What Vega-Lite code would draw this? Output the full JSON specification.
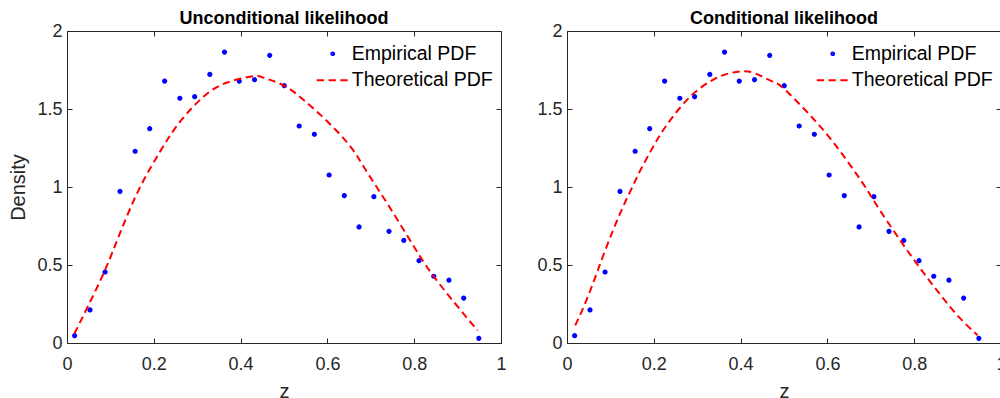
{
  "$schema": "https://vega.github.io/schema/vega-lite/v6.json",
  "autosize": {"type": "none"},
  "padding": {"left": 67, "top": 31, "right": 933, "bottom": 367},
  "background": "white",
  "datasets": {
    "emp": [
      {"z": 0.0175, "density": 0.047, "series": "Empirical PDF"},
      {"z": 0.053, "density": 0.212, "series": "Empirical PDF"},
      {"z": 0.0877, "density": 0.455, "series": "Empirical PDF"},
      {"z": 0.122, "density": 0.972, "series": "Empirical PDF"},
      {"z": 0.157, "density": 1.229, "series": "Empirical PDF"},
      {"z": 0.1905, "density": 1.374, "series": "Empirical PDF"},
      {"z": 0.225, "density": 1.679, "series": "Empirical PDF"},
      {"z": 0.26, "density": 1.569, "series": "Empirical PDF"},
      {"z": 0.294, "density": 1.579, "series": "Empirical PDF"},
      {"z": 0.329, "density": 1.722, "series": "Empirical PDF"},
      {"z": 0.363, "density": 1.865, "series": "Empirical PDF"},
      {"z": 0.397, "density": 1.679, "series": "Empirical PDF"},
      {"z": 0.432, "density": 1.688, "series": "Empirical PDF"},
      {"z": 0.467, "density": 1.844, "series": "Empirical PDF"},
      {"z": 0.5006, "density": 1.65, "series": "Empirical PDF"},
      {"z": 0.535, "density": 1.391, "series": "Empirical PDF"},
      {"z": 0.57, "density": 1.338, "series": "Empirical PDF"},
      {"z": 0.604, "density": 1.077, "series": "Empirical PDF"},
      {"z": 0.639, "density": 0.945, "series": "Empirical PDF"},
      {"z": 0.673, "density": 0.744, "series": "Empirical PDF"},
      {"z": 0.707, "density": 0.938, "series": "Empirical PDF"},
      {"z": 0.742, "density": 0.716, "series": "Empirical PDF"},
      {"z": 0.776, "density": 0.658, "series": "Empirical PDF"},
      {"z": 0.811, "density": 0.528, "series": "Empirical PDF"},
      {"z": 0.845, "density": 0.428, "series": "Empirical PDF"},
      {"z": 0.88, "density": 0.403, "series": "Empirical PDF"},
      {"z": 0.914, "density": 0.288, "series": "Empirical PDF"},
      {"z": 0.949, "density": 0.03, "series": "Empirical PDF"}
    ],
    "theoU": [
      {"z": 0.017, "density": 0.06, "series": "Theoretical PDF"},
      {"z": 0.05, "density": 0.245, "series": "Theoretical PDF"},
      {"z": 0.088, "density": 0.47, "series": "Theoretical PDF"},
      {"z": 0.123, "density": 0.71, "series": "Theoretical PDF"},
      {"z": 0.165, "density": 0.98, "series": "Theoretical PDF"},
      {"z": 0.215, "density": 1.23, "series": "Theoretical PDF"},
      {"z": 0.261, "density": 1.42, "series": "Theoretical PDF"},
      {"z": 0.315, "density": 1.58, "series": "Theoretical PDF"},
      {"z": 0.369, "density": 1.67, "series": "Theoretical PDF"},
      {"z": 0.43, "density": 1.71, "series": "Theoretical PDF"},
      {"z": 0.454, "density": 1.7, "series": "Theoretical PDF"},
      {"z": 0.5, "density": 1.65, "series": "Theoretical PDF"},
      {"z": 0.546, "density": 1.556, "series": "Theoretical PDF"},
      {"z": 0.6, "density": 1.42, "series": "Theoretical PDF"},
      {"z": 0.654, "density": 1.256, "series": "Theoretical PDF"},
      {"z": 0.688, "density": 1.11, "series": "Theoretical PDF"},
      {"z": 0.738, "density": 0.894, "series": "Theoretical PDF"},
      {"z": 0.8, "density": 0.615, "series": "Theoretical PDF"},
      {"z": 0.846, "density": 0.423, "series": "Theoretical PDF"},
      {"z": 0.907, "density": 0.21, "series": "Theoretical PDF"},
      {"z": 0.946, "density": 0.08, "series": "Theoretical PDF"}
    ],
    "theoC": [
      {"z": 0.019, "density": 0.113, "series": "Theoretical PDF"},
      {"z": 0.05, "density": 0.31, "series": "Theoretical PDF"},
      {"z": 0.088, "density": 0.594, "series": "Theoretical PDF"},
      {"z": 0.127, "density": 0.86, "series": "Theoretical PDF"},
      {"z": 0.154, "density": 1.02, "series": "Theoretical PDF"},
      {"z": 0.169, "density": 1.107, "series": "Theoretical PDF"},
      {"z": 0.196, "density": 1.246, "series": "Theoretical PDF"},
      {"z": 0.223, "density": 1.37, "series": "Theoretical PDF"},
      {"z": 0.258, "density": 1.5, "series": "Theoretical PDF"},
      {"z": 0.296, "density": 1.61, "series": "Theoretical PDF"},
      {"z": 0.335, "density": 1.685, "series": "Theoretical PDF"},
      {"z": 0.369, "density": 1.725, "series": "Theoretical PDF"},
      {"z": 0.404, "density": 1.742, "series": "Theoretical PDF"},
      {"z": 0.435, "density": 1.727, "series": "Theoretical PDF"},
      {"z": 0.473, "density": 1.677, "series": "Theoretical PDF"},
      {"z": 0.496, "density": 1.64, "series": "Theoretical PDF"},
      {"z": 0.55, "density": 1.49, "series": "Theoretical PDF"},
      {"z": 0.604, "density": 1.32, "series": "Theoretical PDF"},
      {"z": 0.65, "density": 1.15, "series": "Theoretical PDF"},
      {"z": 0.685, "density": 1.01, "series": "Theoretical PDF"},
      {"z": 0.711, "density": 0.894, "series": "Theoretical PDF"},
      {"z": 0.773, "density": 0.637, "series": "Theoretical PDF"},
      {"z": 0.835, "density": 0.4, "series": "Theoretical PDF"},
      {"z": 0.896, "density": 0.188, "series": "Theoretical PDF"},
      {"z": 0.946, "density": 0.05, "series": "Theoretical PDF"}
    ]
  },
  "hconcat": [
    {
      "width": 434,
      "height": 312,
      "title": {"text": "Unconditional likelihood"},
      "layer": [
        {
          "data": {"name": "emp"},
          "mark": {"type": "point", "filled": false, "size": 231, "strokeWidth": 2.6, "opacity": 1},
          "encoding": {
            "x": {"field": "z", "type": "quantitative", "scale": {"domain": [0, 1], "nice": false, "zero": false},
                  "axis": {"orient": "bottom", "values": [0, 0.2, 0.4, 0.6, 0.8, 1], "format": "~g", "title": "z", "labelPadding": 17, "titlePadding": 8}},
            "y": {"field": "density", "type": "quantitative", "scale": {"domain": [0, 2], "nice": false},
                  "axis": {"orient": "left", "values": [0, 0.5, 1, 1.5, 2], "format": "~g", "title": "Density", "labelPadding": 10, "titlePadding": 8}},
            "color": {"field": "series", "type": "nominal",
                      "scale": {"domain": ["Empirical PDF", "Theoretical PDF"], "range": ["#0000ff", "#ff0000"]},
                      "legend": {"title": " ", "titleFontSize": 1, "titlePadding": 3, "orient": "top-right", "offset": 8.5, "padding": 0,
                        "labelFont": "Liberation Sans", "labelFontSize": 19.5, "labelColor": "#000000",
                        "rowPadding": 5.5, "labelOffset": 9.25, "symbolSize": 256, "symbolStrokeWidth": 2}},
            "shape": {"field": "series", "type": "nominal",
                      "scale": {"domain": ["Empirical PDF", "Theoretical PDF"], "range": ["M-0.17,0A0.17,0.17,0,1,1,0.17,0A0.17,0.17,0,1,1,-0.17,0Z", "M-2,0H2"]},
                      "legend": {"title": " ", "titleFontSize": 1, "titlePadding": 3, "orient": "top-right", "offset": 8.5, "padding": 0,
                        "labelFont": "Liberation Sans", "labelFontSize": 19.5, "labelColor": "#000000",
                        "rowPadding": 5.5, "labelOffset": 9.25, "symbolSize": 256, "symbolStrokeWidth": 2}},
            "strokeDash": {"field": "series", "type": "nominal",
                      "scale": {"domain": ["Empirical PDF", "Theoretical PDF"], "range": [[1, 0], [7.3, 4.5]]},
                      "legend": {"title": " ", "titleFontSize": 1, "titlePadding": 3, "orient": "top-right", "offset": 8.5, "padding": 0,
                        "labelFont": "Liberation Sans", "labelFontSize": 19.5, "labelColor": "#000000",
                        "rowPadding": 5.5, "labelOffset": 9.25, "symbolSize": 256, "symbolStrokeWidth": 2}}
          }
        },
        {
          "data": {"name": "theoU"},
          "mark": {"type": "line", "strokeDash": [7.3, 4.5], "strokeWidth": 2, "interpolate": "natural"},
          "encoding": {
            "x": {"field": "z", "type": "quantitative", "axis": {"orient": "top", "values": [0, 0.2, 0.4, 0.6, 0.8, 1], "labels": false, "title": null}},
            "y": {"field": "density", "type": "quantitative", "axis": {"orient": "right", "values": [0, 0.5, 1, 1.5, 2], "labels": false, "title": null}},
            "color": {"field": "series", "type": "nominal"}
          }
        }
      ],
      "resolve": {"axis": {"x": "independent", "y": "independent"}}
    },
    {
      "width": 434,
      "height": 312,
      "title": {"text": "Conditional likelihood"},
      "layer": [
        {
          "data": {"name": "emp"},
          "mark": {"type": "point", "filled": false, "size": 231, "strokeWidth": 2.6, "opacity": 1},
          "encoding": {
            "x": {"field": "z", "type": "quantitative", "scale": {"domain": [0, 1], "nice": false, "zero": false},
                  "axis": {"orient": "bottom", "values": [0, 0.2, 0.4, 0.6, 0.8, 1], "format": "~g", "title": "z", "labelPadding": 17, "titlePadding": 8}},
            "y": {"field": "density", "type": "quantitative", "scale": {"domain": [0, 2], "nice": false},
                  "axis": {"orient": "left", "values": [0, 0.5, 1, 1.5, 2], "format": "~g", "title": null, "labelPadding": 10}},
            "color": {"field": "series", "type": "nominal",
                      "scale": {"domain": ["Empirical PDF", "Theoretical PDF"], "range": ["#0000ff", "#ff0000"]},
                      "legend": {"title": " ", "titleFontSize": 1, "titlePadding": 3, "orient": "top-right", "offset": 8.5, "padding": 0,
                        "labelFont": "Liberation Sans", "labelFontSize": 19.5, "labelColor": "#000000",
                        "rowPadding": 5.5, "labelOffset": 9.25, "symbolSize": 256, "symbolStrokeWidth": 2}},
            "shape": {"field": "series", "type": "nominal",
                      "scale": {"domain": ["Empirical PDF", "Theoretical PDF"], "range": ["M-0.17,0A0.17,0.17,0,1,1,0.17,0A0.17,0.17,0,1,1,-0.17,0Z", "M-2,0H2"]},
                      "legend": {"title": " ", "titleFontSize": 1, "titlePadding": 3, "orient": "top-right", "offset": 8.5, "padding": 0,
                        "labelFont": "Liberation Sans", "labelFontSize": 19.5, "labelColor": "#000000",
                        "rowPadding": 5.5, "labelOffset": 9.25, "symbolSize": 256, "symbolStrokeWidth": 2}},
            "strokeDash": {"field": "series", "type": "nominal",
                      "scale": {"domain": ["Empirical PDF", "Theoretical PDF"], "range": [[1, 0], [7.3, 4.5]]},
                      "legend": {"title": " ", "titleFontSize": 1, "titlePadding": 3, "orient": "top-right", "offset": 8.5, "padding": 0,
                        "labelFont": "Liberation Sans", "labelFontSize": 19.5, "labelColor": "#000000",
                        "rowPadding": 5.5, "labelOffset": 9.25, "symbolSize": 256, "symbolStrokeWidth": 2}}
          }
        },
        {
          "data": {"name": "theoC"},
          "mark": {"type": "line", "strokeDash": [7.3, 4.5], "strokeWidth": 2, "interpolate": "natural"},
          "encoding": {
            "x": {"field": "z", "type": "quantitative", "axis": {"orient": "top", "values": [0, 0.2, 0.4, 0.6, 0.8, 1], "labels": false, "title": null}},
            "y": {"field": "density", "type": "quantitative", "axis": {"orient": "right", "values": [0, 0.5, 1, 1.5, 2], "labels": false, "title": null}},
            "color": {"field": "series", "type": "nominal"}
          }
        }
      ],
      "resolve": {"axis": {"x": "independent", "y": "independent"}}
    }
  ],
  "spacing": 66,
  "bounds": "flush",
  "resolve": {"legend": {"color": "independent", "shape": "independent", "strokeDash": "independent"}},
  "config": {
    "view": {"stroke": null},
    "font": "Liberation Sans",
    "axis": {
      "domainColor": "#262626", "tickColor": "#262626", "labelColor": "#262626", "titleColor": "#262626",
      "labelFont": "Liberation Sans", "titleFont": "Liberation Sans", "labelFontSize": 18, "titleFontSize": 20,
      "titleFontWeight": "normal", "tickSize": -5, "grid": false, "labelFlush": false, "labelOverlap": false,
      "domainWidth": 1, "tickWidth": 1
    },
    "title": {"font": "Liberation Sans", "fontSize": 18, "fontWeight": "bold", "color": "#000000", "baseline": "alphabetic", "offset": 7.5, "dy": 13, "frame": "group", "anchor": "middle"}
  }
}
